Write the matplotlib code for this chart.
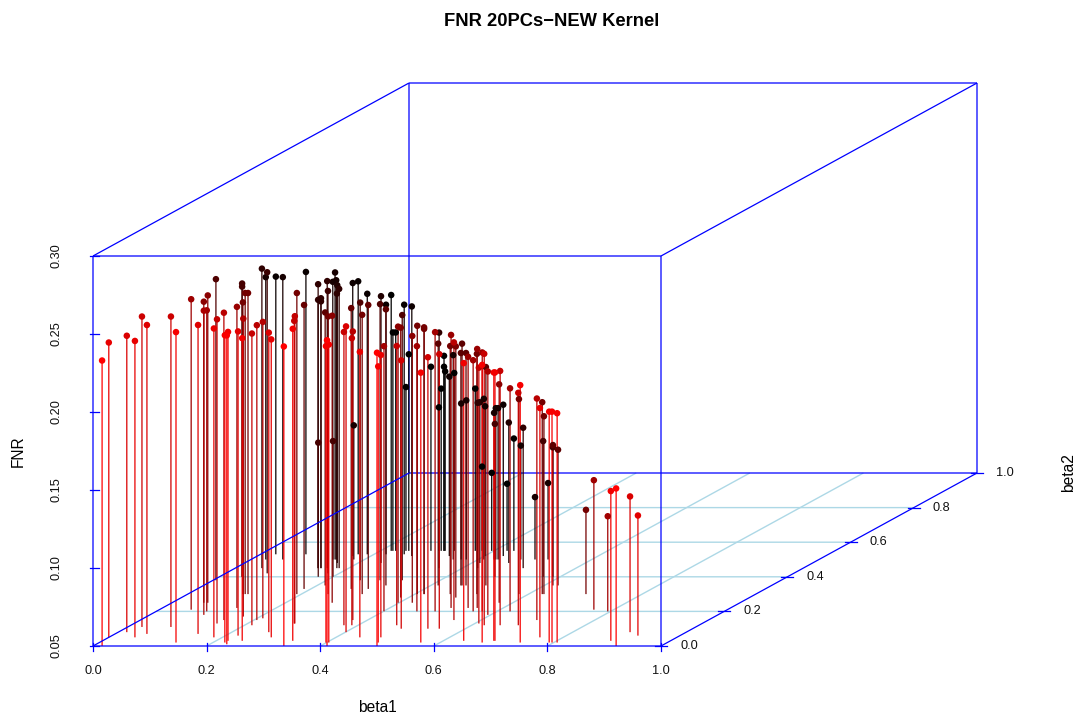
import numpy as np
import matplotlib
matplotlib.use('Agg')
import matplotlib.pyplot as plt

plt.rcParams['font.family'] = ['Liberation Sans', 'DejaVu Sans']

# values
beta1 = [.016,.000,.015,.046,.025,.056,.076,.135,.056,.146,.056,.095,.089,.063,.005,.146,.185,.147,.221,.230,.221,.131,.222,.246,.040,.040,.170,.097,.101,.106,.213,.205,.210,.047,.026,.073,.265,.286,.027,.056,.336,
         .080,.192,.188,.283,.282,.335,.146,.146,.151,.151,.162,.148,.150,.144,.163,.183,.179,.180,.214,.247,.282,.412,.399,.404,.401,.375,.374,.389,.271,.168,.172,.259,.307,.442,.301,.188,.240,.294,.221,.321,.219,.500,.479,.491,.401,.222,.227,.398,.386,.333,.253,.272,.468,.487,.250,.423,.245,.404,.459,.416,.416,.566,.534,.289,.491,.359,.413,.554,.312,.312,.314,.338,.330,.307,.508,.462,.552,.483,.356,.455,.453,.462,.538,.636,.558,.554,.509,.607,.367,
         .574,.622,.674,.497,.595,.689,.691,.650,.576,.370,.379,.303,.623,.741,.682,.583,.427,.414,.410,.401,.431,.435,.433,.428,.465,.485,.507,.435,.475,.698,.624,.759,.627,.570,.792,.797,.806,.615,.587,.624,.379,.396,.423,.500,.523,.765,.701,.795,.895,.921,.901,.926,.174,.200,.181]
beta2 = [0,.05,.08,.05,.11,.07,.11,.02,.21,.07,.25,.18,.20,.25,.38,.13,.05,.15,.02,.01,.03,.22,.06,.03,.40,.40,.17,.30,.30,.30,.12,.15,.16,.45,.50,.42,.08,.05,.53,.50,0,
         .53,.30,.33,.13,.13,.03,.45,.45,.45,.45,.45,.50,.50,.50,.48,.45,.45,.42,.35,.30,.25,0,.02,.02,.08,.12,.15,.12,.33,.52,.53,.38,.30,.05,.33,.53,.48,.38,.53,.35,.55,0,.05,.02,.20,.55,.55,.25,.28,.38,.53,.52,.12,.10,.55,.25,.55,.30,.20,.30,.30,.02,.10,.55,.20,.45,.35,.10,.55,.55,.55,.52,.55,.55,.22,.30,.15,.28,.50,.35,.35,.35,.22,.03,.20,.22,.30,.13,.55,
         .20,.12,.02,.35,.18,.03,.03,.12,.25,.50,.50,.55,.20,.02,.12,.30,.45,.48,.50,.52,.50,.50,.52,.50,.48,.40,.45,.55,.50,.15,.30,.05,.30,.40,.02,.02,.02,.35,.40,.35,.55,.55,.55,.50,.50,.21,.30,.20,.03,0,.08,.06,.40,.40,.50]
fnr = [.233,.239,.240,.240,.249,.248,.249,.249,.249,.248,.243,.245,.243,.247,.243,.245,.248,.247,.247,.248,.248,.243,.245,.244,.236,.238,.241,.237,.243,.243,.237,.239,.240,.242,.231,.243,.242,.241,.228,.231,.242,
       .231,.243,.232,.247,.244,.250,.232,.222,.223,.221,.234,.234,.229,.228,.228,.229,.226,.231,.225,.228,.234,.246,.240,.241,.246,.238,.235,.234,.230,.225,.225,.228,.229,.233,.232,.217,.221,.227,.210,.227,.214,.238,.231,.227,.220,.190,.190,.227,.223,.220,.210,.210,.229,.222,.176,.221,.155,.222,.220,.221,.220,.223,.224,.168,.229,.201,.205,.226,.175,.168,.165,.165,.164,.154,.225,.209,.228,.211,.181,.205,.199,.199,.211,.228,.211,.216,.204,.214,.154,
       .216,.224,.228,.190,.206,.222,.222,.213,.190,.150,.152,.142,.193,.215,.199,.175,.156,.153,.153,.146,.147,.147,.147,.144,.140,.148,.140,.122,.123,.192,.173,.197,.164,.137,.198,.198,.197,.140,.133,.137,.104,.100,.093,.090,.099,.133,.104,.111,.146,.151,.137,.127,.136,.137,.136]

x_ticks = [0.0, 0.2, 0.4, 0.6, 0.8, 1.0]
y_ticks = [0.0, 0.2, 0.4, 0.6, 0.8, 1.0]
z_ticks = [0.05, 0.10, 0.15, 0.20, 0.25, 0.30]

beta1 = np.array(beta1)
beta2 = np.array(beta2)
fnr = np.array(fnr)


# oblique projection of the box onto the page, in pixels
def sx(x, y):
    return 93 + 568 * np.asarray(x) + 316 * np.asarray(y)


def sy(y, z):
    return 646 - 1560 * (np.asarray(z) - 0.05) - 173 * np.asarray(y)


fig = plt.figure(figsize=(10.82, 7.18), dpi=100)
ax = fig.add_axes([0, 0, 1, 1])
ax.set_xlim(0, 1082)
ax.set_ylim(718, 0)
ax.axis('off')


def edge(x, y, z, color='blue', lw=0.9, zorder=1):
    ax.plot(sx(x, y), sy(y, z), color=color, lw=lw, zorder=zorder,
            solid_capstyle='butt', snap=False)


# floor grid
for t in x_ticks[1:-1]:
    edge([t, t], [0, 1], [.05, .05], color='lightblue', lw=1.0, zorder=0)
for t in y_ticks[1:-1]:
    edge([0, 1], [t, t], [.05, .05], color='lightblue', lw=1.0, zorder=0)

# box
edge([0, 1], [1, 1], [.05, .05])
edge([0, 1], [1, 1], [.30, .30])
edge([0, 0], [1, 1], [.05, .30])
edge([1, 1], [1, 1], [.05, .30])
edge([0, 1], [0, 0], [.30, .30], zorder=5)
edge([0, 0], [0, 1], [.05, .05], zorder=5)
edge([0, 0], [0, 1], [.30, .30], zorder=5)
edge([1, 1], [0, 1], [.05, .05], zorder=5)
edge([1, 1], [0, 1], [.30, .30], zorder=5)
edge([0, 1], [0, 0], [.05, .05], zorder=5)
edge([0, 0], [0, 0], [.05, .30], zorder=5)
edge([1, 1], [0, 0], [.05, .30], zorder=5)

# points and their stems, back ones first
order = np.argsort(-beta2, kind='stable')
colors = [(1 - b / beta2.max(), 0, 0) for b in beta2[order]]
xs = sx(beta1[order], beta2[order])
stems = ax.vlines(xs, sy(beta2[order], 0.05), sy(beta2[order], fnr[order]),
                  colors=colors, lw=0.9, zorder=3)
stems.set_snap(False)
ax.scatter(xs, sy(beta2[order], fnr[order]), c=colors, s=22, linewidths=0, zorder=4)

# ticks and their labels
for t in x_ticks:
    ax.plot([sx(t, 0)] * 2, [643, 651], color='blue', lw=0.9, zorder=5)
    ax.text(sx(t, 0), 671, f'{t:.1f}', ha='center', va='center', fontsize=9.2, color='#111111')
for t in y_ticks:
    ax.plot([sx(1, t) - 6, sx(1, t) + 6], [sy(t, .05)] * 2, color='blue', lw=0.9, zorder=5)
    ax.text(sx(1, t) + 28, sy(t, .05), f'{t:.1f}', ha='center', va='center', fontsize=9.2, color='#111111')
for t in z_ticks:
    ax.plot([90, 99], [sy(0, t)] * 2, color='blue', lw=0.9, zorder=5)
    ax.text(57, sy(0, t), f'{t:.2f}', rotation=90, ha='center', va='center', fontsize=9.2, color='#111111')

ax.text(552, 21, 'FNR 20PCs\u2212NEW Kernel', ha='center', va='center', fontsize=13.2, fontweight='bold')
ax.text(377, 707, 'beta1', ha='center', va='center', fontsize=11.2)
ax.text(18, 451, 'FNR', rotation=90, ha='center', va='center', fontsize=11.2)
ax.text(1069, 473, 'beta2', rotation=90, ha='center', va='center', fontsize=11.2)

fig.savefig('out.png', dpi=100)
